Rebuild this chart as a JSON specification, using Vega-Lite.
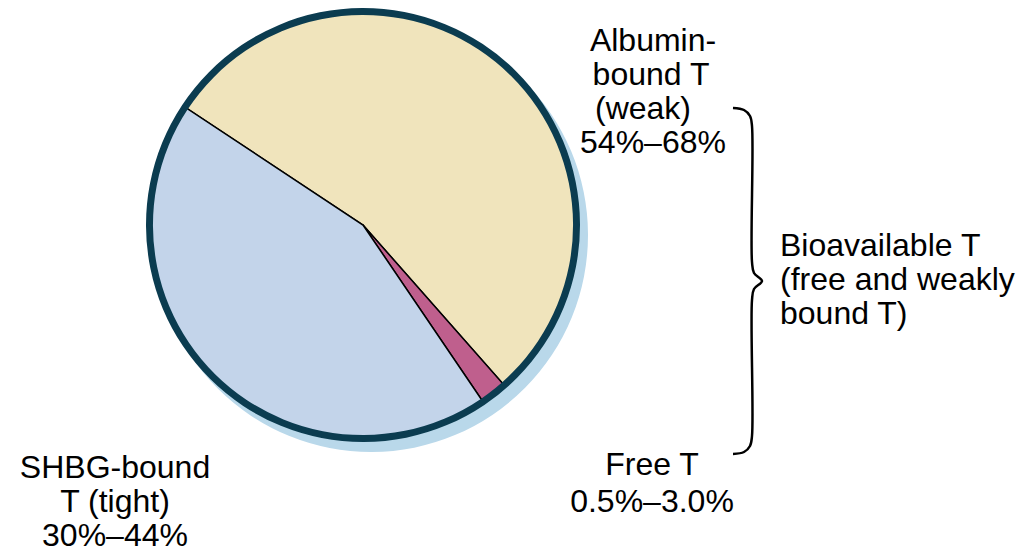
{
  "$schema": "https://vega.github.io/schema/vega-lite/v6.json",
  "width": 726,
  "height": 450,
  "autosize": {"type": "none"},
  "padding": {"left": 0, "top": 0, "right": 304, "bottom": 106},
  "background": "white",
  "config": {"view": {"stroke": null}},
  "datasets": {
    "slices": [
      {"part": "Albumin-bound T", "value": 54.2},
      {"part": "Free T", "value": 2.0},
      {"part": "SHBG-bound T", "value": 43.8}
    ],
    "labels": [
      {"text": "Albumin-", "x": 653, "y": 51},
      {"text": "bound T", "x": 651, "y": 85},
      {"text": "(weak)", "x": 643, "y": 119},
      {"text": "54%–68%", "x": 653, "y": 153},
      {"text": "SHBG-bound", "x": 115, "y": 478},
      {"text": "T (tight)", "x": 115, "y": 512},
      {"text": "30%–44%", "x": 115, "y": 546},
      {"text": "Free T", "x": 652, "y": 475},
      {"text": "0.5%–3.0%", "x": 652, "y": 512}
    ],
    "notes": [
      {"text": "Bioavailable T", "x": 780, "y": 256},
      {"text": "(free and weakly", "x": 780, "y": 290},
      {"text": "bound T)", "x": 780, "y": 324}
    ],
    "brace": [
      {"k": 0, "x": 733, "y": 108},
      {"k": 1, "x": 744, "y": 110},
      {"k": 2, "x": 750, "y": 116},
      {"k": 3, "x": 752, "y": 126},
      {"k": 4, "x": 752, "y": 262},
      {"k": 5, "x": 754, "y": 273},
      {"k": 6, "x": 762, "y": 281},
      {"k": 7, "x": 754, "y": 289},
      {"k": 8, "x": 752, "y": 300},
      {"k": 9, "x": 752, "y": 436},
      {"k": 10, "x": 750, "y": 446},
      {"k": 11, "x": 744, "y": 452},
      {"k": 12, "x": 733, "y": 454}
    ]
  },
  "layer": [
    {
      "data": {"name": "slices"},
      "transform": [{"aggregate": [{"op": "sum", "field": "value", "as": "total"}]}],
      "mark": {"type": "arc", "outerRadius": 217, "xOffset": 8, "yOffset": 10, "fill": "#b9d8ea", "stroke": null},
      "encoding": {
        "theta": {"field": "total", "type": "quantitative", "scale": {"domain": [0, 100], "range": [-0.98611, 5.29708]}}
      }
    },
    {
      "data": {"name": "slices"},
      "mark": {"type": "arc", "outerRadius": 213, "stroke": "black", "strokeWidth": 1.5, "strokeJoin": "miter"},
      "encoding": {
        "theta": {"field": "value", "type": "quantitative", "stack": true, "scale": {"domain": [0, 100], "range": [-0.98611, 5.29708]}},
        "color": {"field": "part", "type": "nominal", "legend": null,
          "scale": {"domain": ["Albumin-bound T", "Free T", "SHBG-bound T"], "range": ["#f0e4bc", "#bf5f8d", "#c3d4ea"]}}
      }
    },
    {
      "data": {"name": "slices"},
      "transform": [{"aggregate": [{"op": "sum", "field": "value", "as": "total"}]}],
      "mark": {"type": "arc", "innerRadius": 210, "outerRadius": 217, "fill": "#0b3c50", "stroke": null},
      "encoding": {
        "theta": {"field": "total", "type": "quantitative", "scale": {"domain": [0, 100], "range": [-0.98611, 5.29708]}}
      }
    },
    {
      "data": {"name": "brace"},
      "mark": {"type": "line", "color": "black", "strokeWidth": 2.5, "interpolate": "catmull-rom"},
      "encoding": {
        "x": {"field": "x", "type": "quantitative", "axis": null, "scale": {"domain": [0, 726], "nice": false, "zero": false}},
        "y": {"field": "y", "type": "quantitative", "axis": null, "scale": {"domain": [0, 450], "nice": false, "zero": false, "reverse": true}},
        "order": {"field": "k", "type": "quantitative"}
      }
    },
    {
      "data": {"name": "labels"},
      "mark": {"type": "text", "font": "Liberation Sans", "fontSize": 32, "color": "black", "baseline": "alphabetic", "align": "center"},
      "encoding": {
        "x": {"field": "x", "type": "quantitative", "axis": null, "scale": {"domain": [0, 726], "nice": false, "zero": false}},
        "y": {"field": "y", "type": "quantitative", "axis": null, "scale": {"domain": [0, 450], "nice": false, "zero": false, "reverse": true}},
        "text": {"field": "text"}
      }
    },
    {
      "data": {"name": "notes"},
      "mark": {"type": "text", "font": "Liberation Sans", "fontSize": 32, "color": "black", "baseline": "alphabetic", "align": "left"},
      "encoding": {
        "x": {"field": "x", "type": "quantitative", "axis": null, "scale": {"domain": [0, 726], "nice": false, "zero": false}},
        "y": {"field": "y", "type": "quantitative", "axis": null, "scale": {"domain": [0, 450], "nice": false, "zero": false, "reverse": true}},
        "text": {"field": "text"}
      }
    }
  ]
}
